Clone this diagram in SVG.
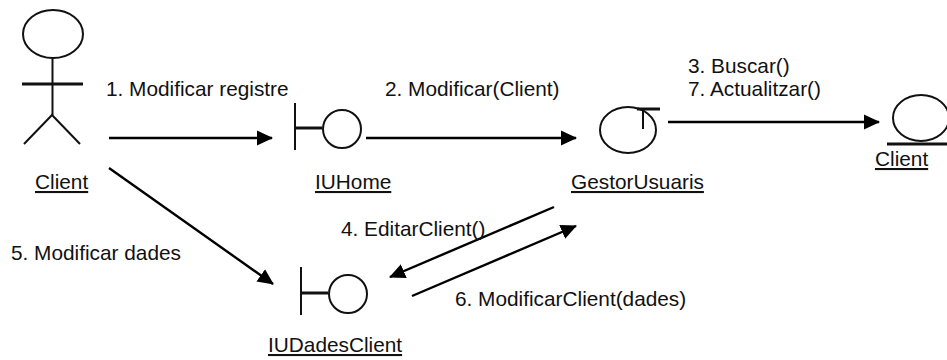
<svg xmlns="http://www.w3.org/2000/svg" width="947" height="360" viewBox="0 0 947 360">
<defs>
<marker id="arrow" markerUnits="userSpaceOnUse" markerWidth="16" markerHeight="16" refX="15" refY="8" orient="auto"><path d="M0,0.5 L16,8 L0,15.5 Z" fill="#000"/></marker>
</defs>
<style>
text{font-family:"Liberation Sans",Arial,sans-serif;font-size:20.8px;fill:#111}
.u{text-decoration:underline}
.s{fill:none;stroke:#111;stroke-width:2}
.t{fill:none;stroke:#111;stroke-width:3}
.l{fill:none;stroke:#000;stroke-width:2.4;marker-end:url(#arrow)}
</style>
<rect width="947" height="360" fill="#fff"/>
<g id="connectors">
<line class="l" x1="109" y1="138" x2="272" y2="138"/>
<line class="l" x1="366" y1="138" x2="576" y2="138"/>
<line class="l" x1="668" y1="122" x2="879" y2="122"/>
<line class="l" x1="109" y1="168" x2="273" y2="284"/>
<line class="l" x1="554" y1="207" x2="390" y2="277"/>
<line class="l" x1="412" y1="296" x2="576" y2="226"/>
</g>
<g id="actor-client">
<ellipse class="s" cx="53" cy="34" rx="30" ry="24"/>
<line class="s" x1="52.500" y1="58" x2="52.500" y2="115"/>
<line class="t" x1="22" y1="84" x2="83" y2="84"/>
<path class="s" d="M24,144 L52,115 L80,144"/>
<text class="u" x="35" y="189">Client</text>
</g>
<g id="iuhome">
<line class="s" x1="295" y1="103" x2="295" y2="150"/>
<line class="t" x1="295" y1="128" x2="322" y2="128"/>
<circle class="s" cx="342" cy="129" r="19"/>
<text class="u" x="315" y="189">IUHome</text>
</g>
<g id="gestorusuaris">
<ellipse class="s" cx="628" cy="130" rx="28" ry="23"/>
<line class="t" x1="637" y1="109" x2="660" y2="109"/>
<line class="s" x1="643" y1="109" x2="643" y2="129"/>
<text class="u" x="571" y="189">GestorUsuaris</text>
</g>
<g id="client-entity">
<ellipse class="s" cx="921" cy="118" rx="28" ry="23"/>
<line class="t" x1="887" y1="144" x2="947" y2="144"/>
<text class="u" x="875" y="166">Client</text>
</g>
<g id="iudadesclient">
<line class="s" x1="301" y1="267" x2="301" y2="315"/>
<line class="t" x1="301" y1="293" x2="328" y2="293"/>
<circle class="s" cx="348" cy="294" r="19"/>
<text class="u" x="268" y="352">IUDadesClient</text>
</g>
<g id="labels">
<text x="106" y="96">1. Modificar registre</text>
<text x="385" y="96">2. Modificar(Client)</text>
<text x="688" y="73">3. Buscar()</text>
<text x="688" y="96">7. Actualitzar()</text>
<text x="341" y="236">4. EditarClient()</text>
<text x="11" y="260">5. Modificar dades</text>
<text x="455" y="306">6. ModificarClient(dades)</text>
</g>
</svg>
